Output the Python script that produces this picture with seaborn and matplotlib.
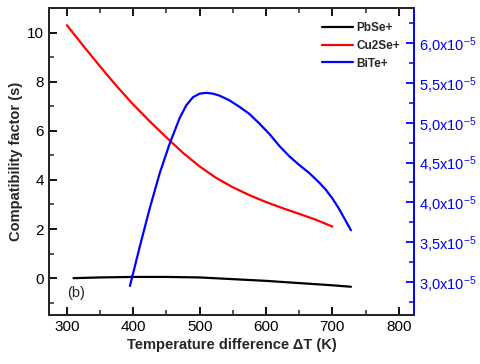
import numpy as np
import pandas as pd

import matplotlib
matplotlib.use('Agg')

import matplotlib.pyplot as plt
from matplotlib.ticker import MultipleLocator, FixedLocator

import seaborn as sns

# PbSe+ (left axis)
pbse_t = [310, 350, 400, 450, 500, 550, 600, 650, 700, 728]
pbse_s = [0.0, 0.03, 0.05, 0.05, 0.03, -0.04, -0.11, -0.20, -0.29, -0.35]

# Cu2Se+ (left axis)
cu2se_t = [300, 325, 350, 375, 400, 425, 450, 475, 500, 525, 550, 575, 600, 625, 650, 675, 700]
cu2se_s = [10.3, 9.45, 8.62, 7.82, 7.07, 6.38, 5.73, 5.10, 4.55, 4.08, 3.70, 3.38, 3.10, 2.85, 2.62, 2.38, 2.10]

# BiTe+ (right axis)
bite_t = [395, 410, 425, 440, 455, 470, 480, 490, 500, 510, 520, 530, 545, 560, 575, 590,
          605, 620, 635, 650, 665, 680, 690, 700, 710, 720, 728]
bite_s = [2.95e-5, 3.45e-5, 3.93e-5, 4.37e-5, 4.74e-5, 5.06e-5, 5.22e-5, 5.32e-5, 5.365e-5,
          5.375e-5, 5.365e-5, 5.34e-5, 5.28e-5, 5.20e-5, 5.11e-5, 4.99e-5, 4.86e-5, 4.71e-5,
          4.58e-5, 4.47e-5, 4.37e-5, 4.25e-5, 4.16e-5, 4.05e-5, 3.92e-5, 3.77e-5, 3.65e-5]

right_ticks = [3.0e-5, 3.5e-5, 4.0e-5, 4.5e-5, 5.0e-5, 5.5e-5, 6.0e-5]
right_labels = ['3,0', '3,5', '4,0', '4,5', '5,0', '5,5', '6,0']

sns.set_style('ticks')
plt.rcParams['font.family'] = ['Liberation Sans', 'DejaVu Sans']
plt.rcParams['mathtext.fontset'] = 'custom'
plt.rcParams['mathtext.rm'] = 'Liberation Sans'

fig = plt.figure(figsize=(4.8, 3.64), dpi=100)
ax = fig.add_axes([0.102, 0.1346, 0.7605, 0.8434])
ax2 = ax.twinx()

df_pb = pd.DataFrame({'T': pbse_t, 'S': pbse_s})
df_cu = pd.DataFrame({'T': cu2se_t, 'S': cu2se_s})
df_bi = pd.DataFrame({'T': bite_t, 'S': bite_s})

sns.lineplot(data=df_pb, x='T', y='S', ax=ax, color='black', lw=1.6, label='PbSe+', legend=False)
sns.lineplot(data=df_cu, x='T', y='S', ax=ax, color='#ff0000', lw=1.6, label='Cu2Se+', legend=False)
sns.lineplot(data=df_bi, x='T', y='S', ax=ax2, color='#0000ff', lw=1.6, label='BiTe+', legend=False)

ax.set_xlim(273, 823)
ax.set_ylim(-1.5, 11.0)
ax2.set_ylim(2.586e-5, 6.44e-5)

ax.xaxis.set_major_locator(MultipleLocator(100))
ax.xaxis.set_minor_locator(MultipleLocator(50))
ax.yaxis.set_major_locator(MultipleLocator(2))
ax.yaxis.set_minor_locator(MultipleLocator(1))
ax2.yaxis.set_major_locator(FixedLocator(right_ticks))
ax2.yaxis.set_minor_locator(MultipleLocator(0.25e-5))
ax2.set_yticklabels([r'$\mathregular{' + s.replace(',', '{,}') + r'x10^{-5}}$' for s in right_labels])

ax.tick_params(axis='both', which='major', direction='in', length=6, width=1.3,
               top=True, labelsize=11, colors='black')
ax.tick_params(axis='both', which='minor', direction='in', length=3.5, width=1.1, top=True)
ax.tick_params(axis='y', right=False, which='both')
ax2.tick_params(axis='y', which='major', direction='in', length=6, width=1.3,
                colors='#0000ff', labelsize=10.5)
ax2.tick_params(axis='y', which='minor', direction='in', length=3.5, width=1.1, colors='#0000ff')

for s in ['left', 'bottom', 'top']:
    ax.spines[s].set_linewidth(1.4)
    ax2.spines[s].set_linewidth(1.4)
ax2.spines['right'].set_color('#0000ff')
ax2.spines['right'].set_linewidth(1.4)
ax.spines['right'].set_visible(False)

ax.set_xlabel('Temperature difference \u0394T (K)', fontsize=10.5, fontweight='bold', labelpad=3)
ax.set_ylabel('Compatibility factor (s)', fontsize=10.5, fontweight='bold', labelpad=3)
ax2.set_ylabel('')

ax.text(300, -0.62, '(b)', fontsize=10.5, va='center', ha='left')

h1, l1 = ax.get_legend_handles_labels()
h2, l2 = ax2.get_legend_handles_labels()
leg = ax2.legend(h1 + h2, l1 + l2, loc='upper left', bbox_to_anchor=(0.748, 0.955),
                 frameon=False, borderpad=0, borderaxespad=0, handlelength=2.6,
                 handletextpad=0.3, labelspacing=0.5, prop={'size': 8.5, 'weight': 'bold'})

plt.savefig('out.png', dpi=100)
plt.close()
